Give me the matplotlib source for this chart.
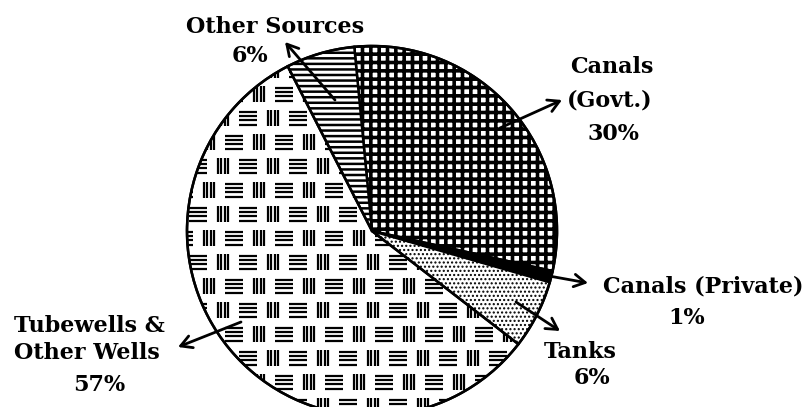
import numpy as np
import matplotlib
matplotlib.use("Agg")
import matplotlib.pyplot as plt
from matplotlib.collections import LineCollection

# ---- data ----
categories = ["Canals\n(Govt.)", "Canals (Private)", "Tanks",
              "Tubewells &\nOther Wells", "Other Sources"]
shares = [30, 1, 6, 57, 6]
pct_labels = ["30%", "1%", "6%", "57%", "6%"]

# ---- style ----
plt.rcParams["hatch.linewidth"] = 1.6
W, H = 807, 407
fig = plt.figure(figsize=(W / 100, H / 100), dpi=100)
ax = fig.add_axes([0, 0, 1, 1])

cx, cy, R = 372, H - 231, 185
hatches = ["++", "", "....", "", "---"]
hatch_lw = [2.6, 1.6, 1.0, 1.6, 1.8]
faces = ["white", "black", "white", "white", "white"]

wedges, _ = ax.pie(shares, startangle=95.5, counterclock=False,
                   center=(cx, cy), radius=R,
                   colors=faces,
                   wedgeprops=dict(edgecolor="black", linewidth=1.8))
for w, h, hl in zip(wedges, hatches, hatch_lw):
    w.set_hatch(h)
    try:
        w.set_hatch_linewidth(hl)
    except Exception:
        pass

# basket-weave pattern for the Tubewells wedge (clipped to wedge)
segs = []
P, RP, off = 50, 24, 14
for r, top in enumerate(np.arange(182 - 8 * RP, 440, RP)):
    shift = off if r % 2 else 0
    for left in np.arange(203 - 5 * P + shift, 600, P):
        for k in range(4):
            x = left + 1 + k * 3.4
            segs.append([(x, H - top), (x, H - (top + 16))])
        hl = left + 22
        for k in range(4):
            y = top + 2 + k * 4.2
            segs.append([(hl, H - y), (hl + 18, H - y)])
lc = LineCollection(segs, colors="black", linewidths=1.6, zorder=3)
ax.add_collection(lc)
lc.set_clip_path(wedges[3])
wedges[3].set_zorder(4)
wedges[3].set_facecolor("none")
ax.add_patch(plt.Circle((cx, cy), R, fill=False, edgecolor="black",
                        linewidth=1.8, zorder=5))

font = dict(family="DejaVu Serif", fontweight="bold", fontsize=16,
            color="black", ha="center", va="center")

label_pos = [
    [(612, 67, "Canals"), (610, 101, "(Govt.)"), (613, 134, pct_labels[0])],
    [(703, 287, "Canals (Private)"), (687, 318, pct_labels[1])],
    [(580, 352, "Tanks"), (592, 378, pct_labels[2])],
    [(89, 326, "Tubewells &"), (87, 353, "Other Wells"), (99, 385, pct_labels[3])],
    [(275, 27, "Other Sources"), (250, 56, pct_labels[4])],
]
for group in label_pos:
    for x, y, s in group:
        ax.text(x, H - y, s, **font)

arrows = [((500, 128), (562, 100)),
          ((549, 276), (588, 283)),
          ((516, 302), (560, 331)),
          ((241, 322), (178, 347)),
          ((335, 100), (285, 42))]
for (tx, ty), (hx, hy) in arrows:
    ax.annotate("", xy=(hx, H - hy), xytext=(tx, H - ty),
                arrowprops=dict(arrowstyle="->,head_length=0.8,head_width=0.45",
                                lw=2, color="black", shrinkA=0, shrinkB=0),
                zorder=6)

ax.set_xlim(0, W)
ax.set_ylim(0, H)
ax.set_aspect("auto")
ax.axis("off")
fig.savefig("out.png", dpi=100)
